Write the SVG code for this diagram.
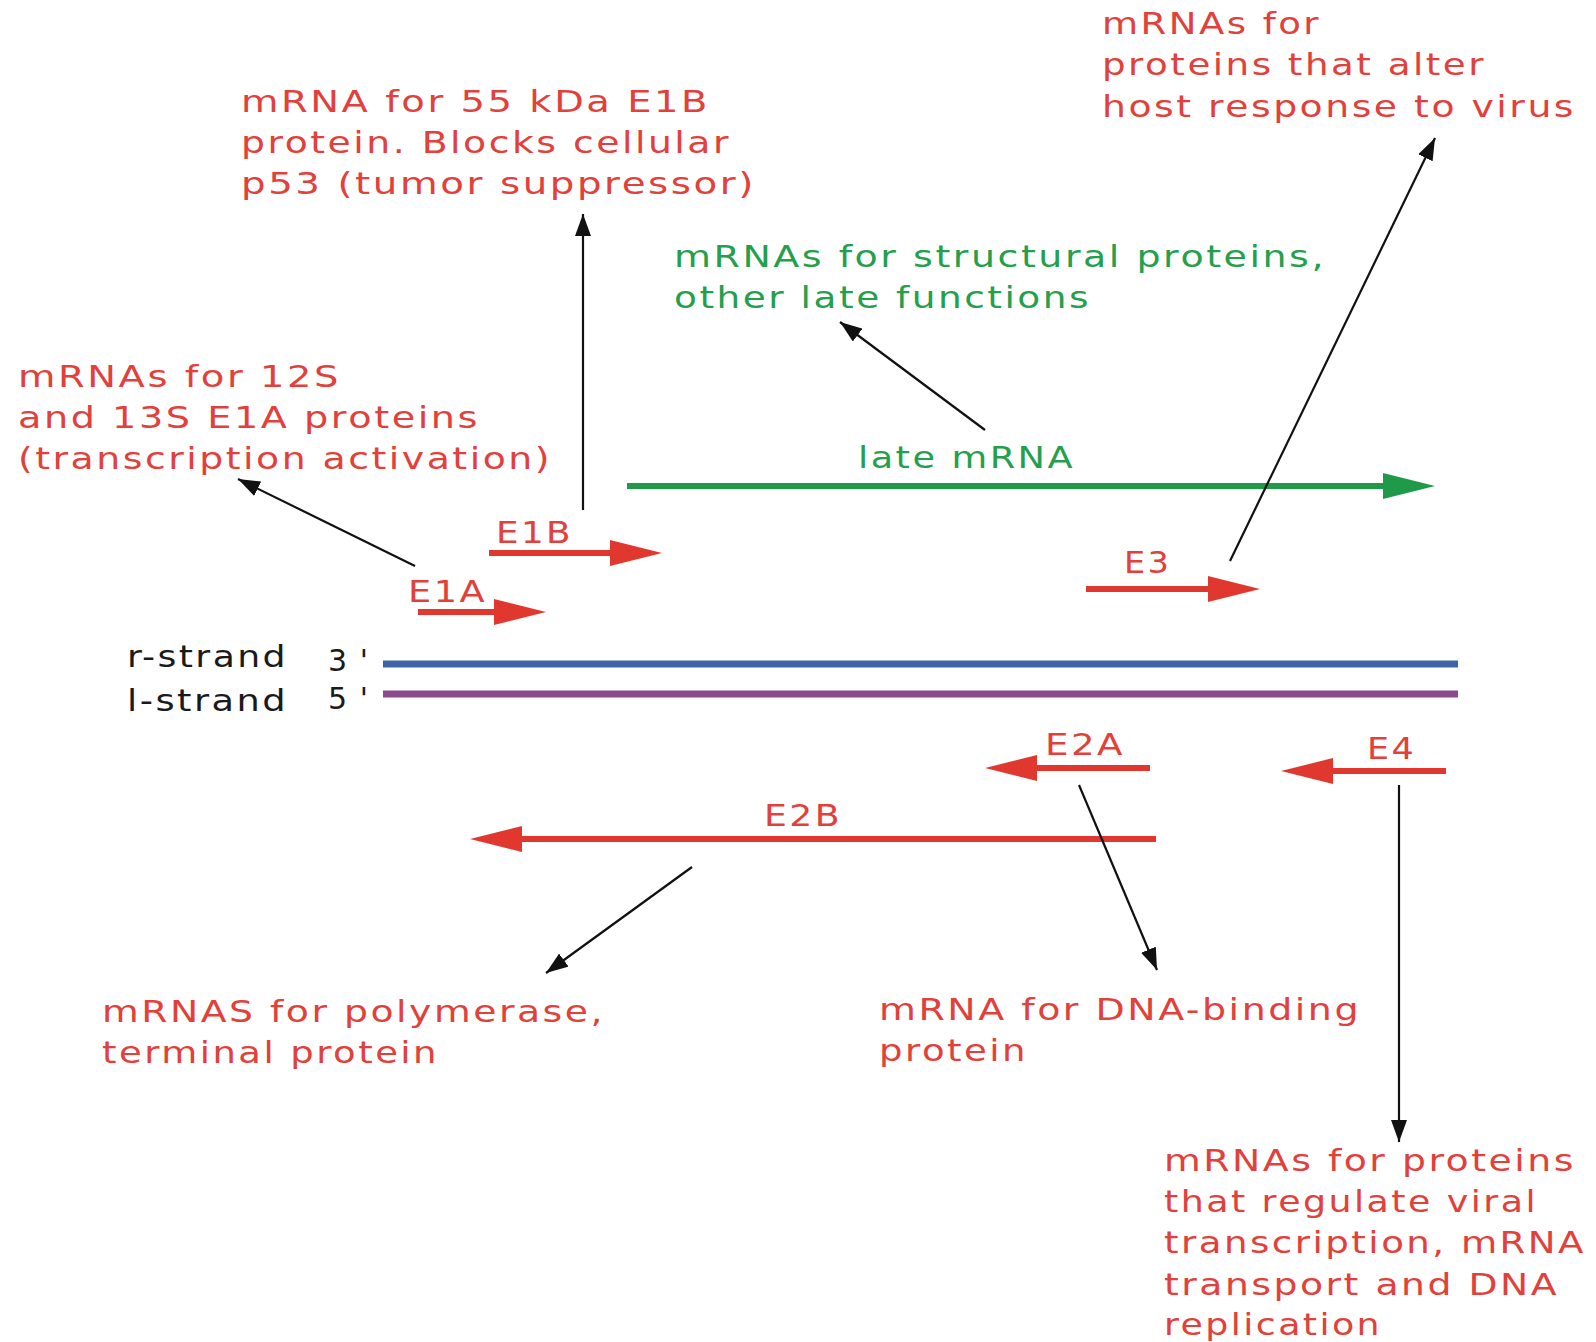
<svg xmlns="http://www.w3.org/2000/svg" width="1596" height="1342" viewBox="0 0 1596 1342">
<style>
text{font-family:"DejaVu Sans","Verdana",sans-serif;font-size:30px;letter-spacing:2px}
.r{fill:#e2403a}
.g{fill:#24a04c}
.k{fill:#1a1a1a}
.red{stroke:#e0382e;stroke-width:6;fill:none}
.grn{stroke:#1f9a48;stroke-width:6;fill:none}
.blk{stroke:#111;stroke-width:2.2;fill:none;marker-end:url(#bh)}
</style>
<defs>
<marker id="rh" markerUnits="userSpaceOnUse" viewBox="0 0 52 26" markerWidth="52" markerHeight="26" refX="22" refY="13" orient="auto"><path d="M0,0 L52,13 L0,26 z" fill="#e0382e"/></marker>
<marker id="gh" markerUnits="userSpaceOnUse" viewBox="0 0 52 26" markerWidth="52" markerHeight="26" refX="22" refY="13" orient="auto"><path d="M0,0 L52,13 L0,26 z" fill="#1f9a48"/></marker>
<marker id="bh" markerUnits="userSpaceOnUse" viewBox="0 0 22 16" markerWidth="22" markerHeight="16" refX="22" refY="8" orient="auto"><path d="M0,0 L22,8 L0,16 z" fill="#111"/></marker>
</defs>
<rect width="1596" height="1342" fill="#fff"/>

<g id="strands">
<line x1="383" y1="664" x2="1458" y2="664" stroke="#3e64a8" stroke-width="7"/>
<line x1="383" y1="694" x2="1458" y2="694" stroke="#8a4a8c" stroke-width="7"/>
<text class="k" x="127" y="667" textLength="161" lengthAdjust="spacingAndGlyphs">r-strand</text>
<text class="k" x="328" y="671" textLength="42" lengthAdjust="spacing">3'</text>
<text class="k" x="127" y="711" textLength="161" lengthAdjust="spacingAndGlyphs">l-strand</text>
<text class="k" x="328" y="709" textLength="42" lengthAdjust="spacing">5'</text>
</g>

<g id="E1A">
<line class="red" x1="418" y1="612" x2="516" y2="612" marker-end="url(#rh)"/>
<text class="r" x="408" y="602" textLength="79" lengthAdjust="spacingAndGlyphs">E1A</text>
</g>
<g id="E1B">
<line class="red" x1="489" y1="553" x2="632" y2="553" marker-end="url(#rh)"/>
<text class="r" x="496" y="543" textLength="77" lengthAdjust="spacingAndGlyphs">E1B</text>
</g>
<g id="E3">
<line class="red" x1="1086" y1="589" x2="1230" y2="589" marker-end="url(#rh)"/>
<text class="r" x="1124" y="573" textLength="47" lengthAdjust="spacingAndGlyphs">E3</text>
</g>
<g id="late">
<line class="grn" x1="627" y1="486" x2="1405" y2="486" marker-end="url(#gh)"/>
<text class="g" x="858" y="468" textLength="217" lengthAdjust="spacingAndGlyphs">late mRNA</text>
</g>
<g id="E2A">
<line class="red" x1="1150" y1="768" x2="1015" y2="768" marker-end="url(#rh)"/>
<text class="r" x="1045" y="755" textLength="80" lengthAdjust="spacingAndGlyphs">E2A</text>
</g>
<g id="E4">
<line class="red" x1="1446" y1="771" x2="1311" y2="771" marker-end="url(#rh)"/>
<text class="r" x="1367" y="759" textLength="49" lengthAdjust="spacingAndGlyphs">E4</text>
</g>
<g id="E2B">
<line class="red" x1="1156" y1="839" x2="500" y2="839" marker-end="url(#rh)"/>
<text class="r" x="764" y="826" textLength="78" lengthAdjust="spacingAndGlyphs">E2B</text>
</g>

<g id="label-e1b">
<text class="r" x="241" y="112" textLength="469" lengthAdjust="spacingAndGlyphs">mRNA for 55 kDa E1B</text>
<text class="r" x="241" y="153" textLength="490" lengthAdjust="spacingAndGlyphs">protein. Blocks cellular</text>
<text class="r" x="241" y="194" textLength="515" lengthAdjust="spacingAndGlyphs">p53 (tumor suppressor)</text>
</g>
<g id="label-e3">
<text class="r" x="1102" y="34" textLength="219" lengthAdjust="spacingAndGlyphs">mRNAs for</text>
<text class="r" x="1102" y="75" textLength="384" lengthAdjust="spacingAndGlyphs">proteins that alter</text>
<text class="r" x="1102" y="117" textLength="474" lengthAdjust="spacingAndGlyphs">host response to virus</text>
</g>
<g id="label-late">
<text class="g" x="674" y="267" textLength="652" lengthAdjust="spacingAndGlyphs">mRNAs for structural proteins,</text>
<text class="g" x="674" y="308" textLength="417" lengthAdjust="spacingAndGlyphs">other late functions</text>
</g>
<g id="label-e1a">
<text class="r" x="18" y="387" textLength="323" lengthAdjust="spacingAndGlyphs">mRNAs for 12S</text>
<text class="r" x="18" y="428" textLength="462" lengthAdjust="spacingAndGlyphs">and 13S E1A proteins</text>
<text class="r" x="18" y="469" textLength="534" lengthAdjust="spacingAndGlyphs">(transcription activation)</text>
</g>
<g id="label-e2b">
<text class="r" x="102" y="1022" textLength="503" lengthAdjust="spacingAndGlyphs">mRNAS for polymerase,</text>
<text class="r" x="102" y="1063" textLength="337" lengthAdjust="spacingAndGlyphs">terminal protein</text>
</g>
<g id="label-e2a">
<text class="r" x="879" y="1020" textLength="482" lengthAdjust="spacingAndGlyphs">mRNA for DNA-binding</text>
<text class="r" x="879" y="1061" textLength="149" lengthAdjust="spacingAndGlyphs">protein</text>
</g>
<g id="label-e4">
<text class="r" x="1164" y="1171" textLength="412" lengthAdjust="spacingAndGlyphs">mRNAs for proteins</text>
<text class="r" x="1164" y="1212" textLength="374" lengthAdjust="spacingAndGlyphs">that regulate viral</text>
<text class="r" x="1164" y="1253" textLength="422" lengthAdjust="spacingAndGlyphs">transcription, mRNA</text>
<text class="r" x="1164" y="1295" textLength="395" lengthAdjust="spacingAndGlyphs">transport and DNA</text>
<text class="r" x="1164" y="1335" textLength="218" lengthAdjust="spacingAndGlyphs">replication</text>
</g>

<g id="connectors">
<line class="blk" x1="415" y1="566" x2="238" y2="479"/>
<line class="blk" x1="583" y1="510" x2="583" y2="214"/>
<line class="blk" x1="985" y1="430" x2="840" y2="322"/>
<line class="blk" x1="1230" y1="561" x2="1435" y2="138"/>
<line class="blk" x1="692" y1="867" x2="546" y2="973"/>
<line class="blk" x1="1079" y1="785" x2="1157" y2="970"/>
<line class="blk" x1="1399" y1="785" x2="1399" y2="1142"/>
</g>
</svg>
